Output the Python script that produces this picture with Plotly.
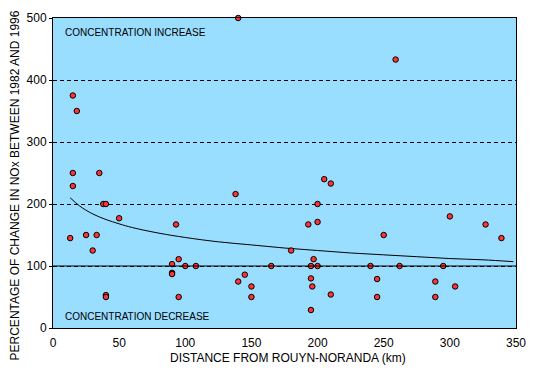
import plotly.graph_objects as go

# Distance from Rouyn-Noranda (km) and % change in NOx 1982-1996
distance_km = [15, 18, 15, 35, 15, 140, 205, 210, 259, 38, 40, 50, 93, 13, 25, 33, 30,
               90, 90, 90, 40, 40, 95, 95, 138, 200, 193, 200, 180, 197, 100, 108, 165,
               195, 200, 145, 140, 150, 150, 195, 196, 210, 195, 300, 327, 339, 250,
               240, 262, 295, 245, 289, 304, 245, 289]
pct_change = [375, 350, 250, 250, 229, 500, 240, 233, 433, 200, 200, 177, 167, 145, 150, 150, 125,
              103, 89, 87, 53, 50, 111, 50, 216, 200, 167, 171, 125, 111, 100, 100, 100,
              100, 100, 86, 75, 67, 50, 80, 67, 54, 29, 180, 167, 145, 150,
              100, 100, 100, 79, 75, 67, 50, 50]

# Trend curve
trend_x = [13, 20, 30, 40, 50, 60, 80, 100, 125, 150, 175, 200, 225, 250, 275, 300, 325, 348]
trend_y = [210, 197, 184, 175, 168, 162, 153, 146, 139, 134, 129, 125, 121, 118, 115, 112, 110, 107]

x_ticks = [0, 50, 100, 150, 200, 250, 300, 350]
y_ticks = [0, 100, 200, 300, 400, 500]

FONT = "Arial, Liberation Sans, sans-serif"

fig = go.Figure()
fig.add_trace(go.Scatter(x=trend_x, y=trend_y, mode="lines",
                         line=dict(color="black", width=1, shape="spline"),
                         hoverinfo="skip", showlegend=False))
fig.add_trace(go.Scatter(x=distance_km, y=pct_change, mode="markers",
                         marker=dict(size=5.5, color="#FF3333", line=dict(color="black", width=1)),
                         cliponaxis=False, showlegend=False))

fig.add_shape(type="line", xref="paper", x0=0, x1=1, yref="y", y0=100, y1=100,
              line=dict(color="black", width=1), layer="above")

fig.add_annotation(text="CONCENTRATION INCREASE", xref="paper", yref="paper",
                   x=(63 - 53) / 466, y=(328 - 26) / 317, xanchor="left", yanchor="middle",
                   showarrow=False, font=dict(family=FONT, size=10, color="black"))
fig.add_annotation(text="CONCENTRATION DECREASE", xref="paper", yref="paper",
                   x=(63 - 53) / 466, y=(328 - 316) / 317, xanchor="left", yanchor="middle",
                   showarrow=False, font=dict(family=FONT, size=10, color="black"))
fig.add_annotation(text="DISTANCE FROM ROUYN-NORANDA (km)", xref="paper", yref="paper",
                   x=(290 - 53) / 466, y=(328 - 359) / 317, xanchor="center", yanchor="middle",
                   showarrow=False, font=dict(family=FONT, size=12, color="black"))
fig.add_annotation(text="PERCENTAGE OF CHANGE IN NOx BETWEEN 1982 AND 1996", xref="paper", yref="paper",
                   x=(15 - 53) / 466, y=(328 - 182) / 317, xanchor="center", yanchor="middle",
                   textangle=-90, showarrow=False, font=dict(family=FONT, size=12, color="black"))

fig.update_layout(
    width=537, height=370,
    margin=dict(l=53, r=18, t=11, b=42),
    paper_bgcolor="white", plot_bgcolor="#99DDFF",
    font=dict(family=FONT, size=12, color="black"),
    showlegend=False,
)
fig.update_xaxes(range=[0, 350], tickvals=x_ticks, ticktext=[str(v) for v in x_ticks],
                 showgrid=False, zeroline=False, showline=True, linecolor="black", linewidth=1,
                 mirror=True, ticks="", ticklabelstandoff=4,
                 tickfont=dict(family=FONT, size=12, color="black"))
fig.update_yaxes(range=[0, 500], tickvals=y_ticks, ticktext=[str(v) for v in y_ticks],
                 showgrid=True, gridcolor="black", gridwidth=1, griddash="4px,3px",
                 zeroline=False, showline=True, linecolor="black", linewidth=1,
                 mirror=True, ticks="outside", ticklen=3, tickcolor="black",
                 tickfont=dict(family=FONT, size=12, color="black"))

fig.write_html("out.html", config={"displayModeBar": False},
               post_script="document.body.style.margin='0px';document.body.style.overflow='hidden';")
